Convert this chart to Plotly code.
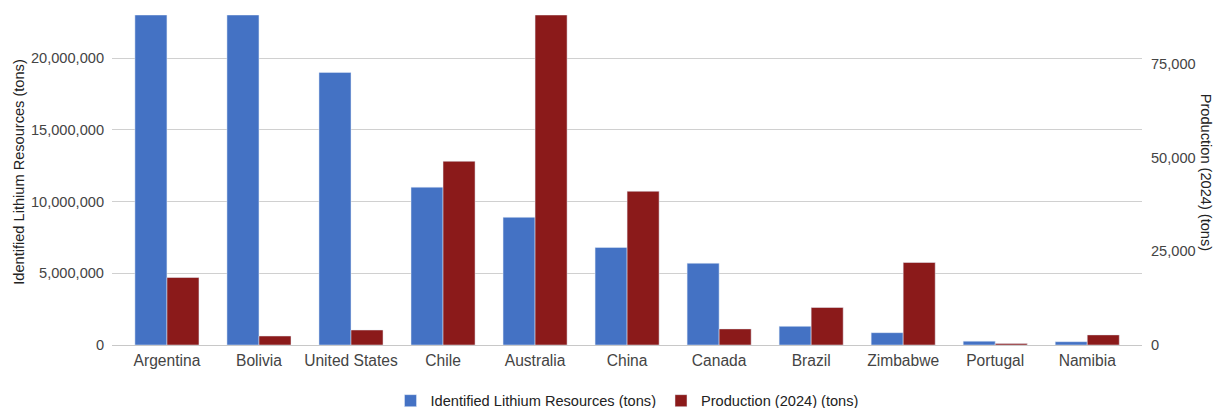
import plotly.graph_objects as go

countries = ["Argentina", "Bolivia", "United States", "Chile", "Australia", "China",
             "Canada", "Brazil", "Zimbabwe", "Portugal", "Namibia"]
resources = [23000000, 23000000, 19000000, 11000000, 8900000, 6800000,
             5700000, 1300000, 860000, 270000, 230000]
production = [18000, 2400, 4000, 49000, 88000, 41000, 4300, 10000, 22000, 380, 2700]

res_name = "Identified Lithium Resources (tons)"
prod_name = "Production (2024) (tons)"
left_ticks = [0, 5000000, 10000000, 15000000, 20000000]
right_ticks = [0, 25000, 50000, 75000]

FONT = "Liberation Sans, Arial, sans-serif"
TICK = "#444444"
FS = 14.6

fig = go.Figure()
fig.add_trace(go.Bar(x=countries, y=resources, name=res_name, marker_color="#4472C4",
                     offsetgroup=1, yaxis="y"))
fig.add_trace(go.Bar(x=countries, y=production, name=prod_name, marker_color="#8B1A1A",
                     offsetgroup=2, yaxis="y2"))

fig.update_layout(
    width=1214, height=408,
    margin=dict(l=112, r=72, t=15, b=63, autoexpand=False),
    paper_bgcolor="white", plot_bgcolor="white",
    font=dict(family=FONT, size=FS, color=TICK),
    barmode="group", bargap=0.304, bargroupgap=0,
    showlegend=True,
    legend=dict(orientation="h", x=0.5, xanchor="center", xref="paper",
                y=0.018, yanchor="middle", yref="container",
                font=dict(size=FS, color="#222222"), itemwidth=30,
                traceorder="normal"),
    xaxis=dict(showgrid=False, zeroline=False, showline=False, ticks="",
               range=[-0.597, 10.595],
               tickfont=dict(size=15.6, color=TICK), ticklabelstandoff=4),
    yaxis=dict(range=[0, 23000000], tickvals=left_ticks, tickformat=",",
               showgrid=True, gridcolor="#d0d0d0", gridwidth=1, zeroline=True,
               zerolinecolor="#c8c8c8", zerolinewidth=1, showline=False, ticks="",
               tickfont=dict(size=FS, color=TICK), ticklabelstandoff=7),
    yaxis2=dict(range=[0, 88000], tickvals=right_ticks, tickformat=",",
                overlaying="y", side="right", showgrid=False, zeroline=False,
                showline=False, ticks="", tickfont=dict(size=FS, color=TICK),
                ticklabelstandoff=8),
    annotations=[
        dict(text=res_name, xref="paper", yref="paper", x=0, y=0.525,
             xshift=-93, textangle=-90, showarrow=False,
             font=dict(size=FS, color="#222222"), xanchor="center", yanchor="middle"),
        dict(text=prod_name, xref="paper", yref="paper", x=1, y=0.525,
             xshift=64, textangle=90, showarrow=False,
             font=dict(size=FS, color="#222222"), xanchor="center", yanchor="middle"),
    ],
)

fig.write_html("out.html")
